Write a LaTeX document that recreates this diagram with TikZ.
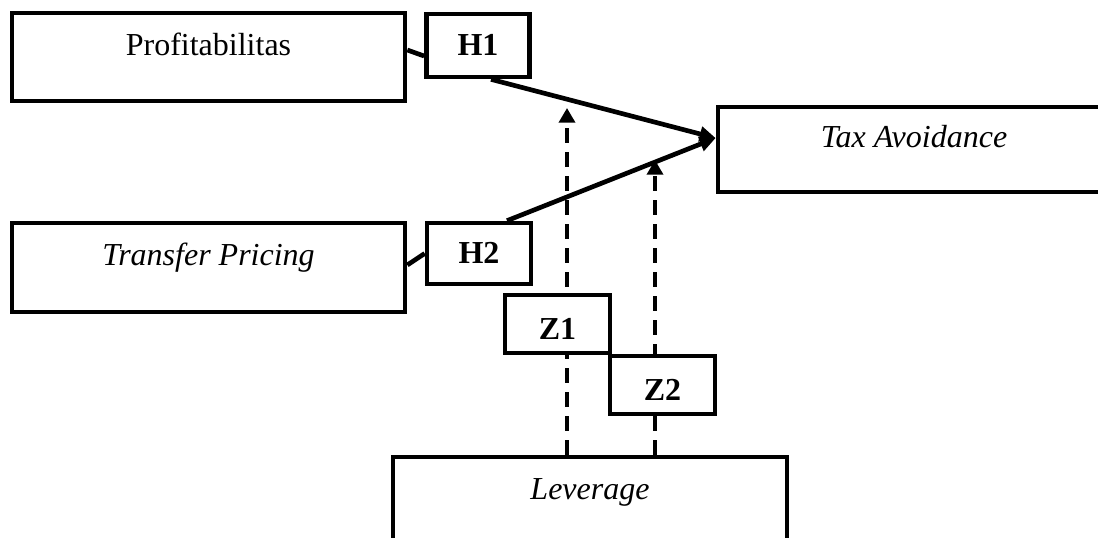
\documentclass[tikz,border=0pt]{standalone}
\usepackage{fontspec}
\setmainfont{Liberation Serif}
\usetikzlibrary{arrows.meta}
\begin{document}
\begin{tikzpicture}[x=0.75pt, y=-0.75pt,
    box/.style={draw, line width=3.5pt, fill=white, minimum width=294.75pt, minimum height=66pt,
        text height=16pt, text depth=18.4pt, font=\fontsize{24}{28}\selectfont},
    hbox/.style={draw, line width=3.5pt, fill=white, minimum width=78pt, minimum height=46pt,
        text height=15.6pt, text depth=0pt, font=\fontsize{24}{28}\selectfont\bfseries},
    zbox/.style={hbox, minimum width=78.75pt, minimum height=43.5pt, text height=23pt},
    link/.style={line width=3.5pt},
    modline/.style={line width=2.6pt, dash pattern=on 11pt off 7pt}]
        \useasboundingbox (0,0) rectangle (1098,537);
        \clip (0,0) rectangle (1098,537);

        % Variables
        \node[box] (prof) at (208.5,57) {Profitabilitas};
        \node[box, minimum height=63.75pt, minimum width=294pt] (tax) at (914,149.5) {\itshape Tax Avoidance};
        \node[box, minimum height=66.75pt] (tp) at (208.5,267.5) {\itshape Transfer Pricing};
        \node[box, minimum width=295.5pt] (lev) at (590,501) {\itshape Leverage};

        % Hypotheses
        \node[hbox, minimum width=77.25pt, minimum height=47.25pt] (h1) at (478,45.5) {H1};
        \node[hbox, minimum height=45.75pt] (h2) at (479,253.5) {H2};

        \draw[link] ([yshift=5.25pt]prof.east) -- ([yshift=-7.9pt]h1.west);
        \draw[link, -{Triangle[length=12pt,width=11pt]}] ([xshift=9.75pt]h1.south) -- ([yshift=8.6pt]tax.west);
        \draw[link] ([yshift=1.9pt]tp.east) -- (h2.west);
        \draw[link, -{Triangle[length=12pt,width=11pt]}] ([xshift=21pt]h2.north) -- ([yshift=8.6pt]tax.west);

        % Moderation by leverage
        \coordinate (m1) at (567,108);
        \coordinate (m2) at (655,160);
        \draw[modline, -{Triangle[length=11pt,width=12pt]}] ([xshift=-17.25pt]lev.north) -- (m1);
        \draw[modline, -{Triangle[length=11pt,width=12pt]}] ([xshift=48.75pt]lev.north) -- (m2);

        \node[zbox] (z1) at (557.5,324) {Z1};
        \node[zbox] (z2) at (662.5,385) {Z2};
\end{tikzpicture}
\end{document}
